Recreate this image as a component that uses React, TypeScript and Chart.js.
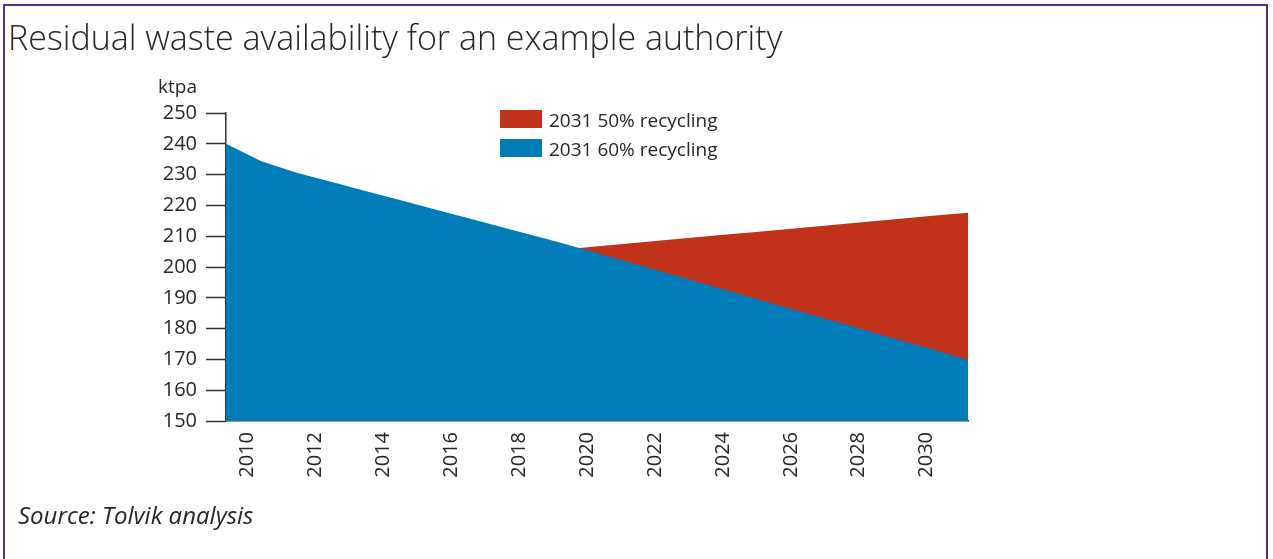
import React, { useEffect, useRef } from 'react';
import { Chart, registerables } from 'chart.js';

Chart.register(...registerables);

// ---- Data ----
const years = [2010, 2011, 2012, 2013, 2014, 2015, 2016, 2017, 2018, 2019, 2020, 2021, 2022, 2023, 2024, 2025, 2026, 2027, 2028, 2029, 2030, 2031];
const recycling60 = [240.0, 234.3, 230.6, 227.6, 224.5, 221.5, 218.4, 215.4, 212.3, 209.3, 206.2, 202.9, 199.6, 196.3, 193.0, 189.7, 186.4, 183.1, 179.8, 176.5, 173.2, 169.8];
const recycling50 = [null, null, null, null, null, null, null, null, null, null, 206.2, 207.2, 208.3, 209.3, 210.4, 211.4, 212.4, 213.5, 214.5, 215.6, 216.6, 217.6];
const tickYears = [2010, 2012, 2014, 2016, 2018, 2020, 2022, 2024, 2026, 2028, 2030];
const seriesNames = ['2031 50% recycling', '2031 60% recycling'];
const titleText = 'Residual waste availability for an example authority';
const unitText = 'ktpa';
const sourceText = 'Source: Tolvik analysis';

const RED = '#c1321a';
const BLUE = '#007db8';
const INK = '#262626';
const AXIS = '#333333';
const FONT = "'Open Sans', 'DejaVu Sans', sans-serif";

export default function App() {
  const canvasRef = useRef<HTMLCanvasElement | null>(null);

  useEffect(() => {
    const canvas = canvasRef.current;
    if (!canvas) return;
    const toPoints = (vals: (number | null)[]) => years.map((yr, i) => ({ x: yr, y: vals[i] }));
    const chart = new Chart(canvas, {
      type: 'line',
      data: {
        datasets: [
          {
            label: seriesNames[0],
            data: toPoints(recycling50) as any,
            xAxisID: 'x',
            yAxisID: 'y',
            backgroundColor: RED,
            borderColor: RED,
            borderWidth: 0,
            pointRadius: 0,
            fill: 'start',
            tension: 0,
            order: 1,
          },
          {
            label: seriesNames[1],
            data: toPoints(recycling60) as any,
            xAxisID: 'x',
            yAxisID: 'y',
            backgroundColor: BLUE,
            borderColor: BLUE,
            borderWidth: 0,
            pointRadius: 0,
            fill: 'start',
            tension: 0,
            order: 0,
          },
        ],
      },
      options: {
        responsive: false,
        animation: false,
        devicePixelRatio: 1,
        layout: { padding: { left: 150, top: 113, right: 305, bottom: 0 } },
        plugins: {
          legend: { display: false },
          tooltip: { enabled: false },
          title: { display: false },
        },
        scales: {
          x: {
            type: 'linear',
            min: years[0],
            max: years[years.length - 1],
            display: false,
          },
          x2: {
            type: 'linear',
            position: 'bottom',
            min: 2009.361,
            max: 2031.217,
            afterBuildTicks: (s: any) => {
              s.ticks = tickYears.map((v) => ({ value: v }));
            },
            afterFit: (s: any) => {
              s.height = 138;
            },
            grid: { display: false, drawTicks: false },
            border: { display: true, color: AXIS, width: 1.5 },
            ticks: {
              autoSkip: false,
              minRotation: 90,
              maxRotation: 90,
              padding: 11,
              color: INK,
              font: { family: FONT, size: 20 },
              callback: (v: any) => String(v),
            },
          },
          y: {
            min: 150,
            max: 250,
            afterFit: (s: any) => {
              s.width = 76;
            },
            grid: { drawOnChartArea: false, tickLength: 20, tickColor: AXIS, tickWidth: 1.5 },
            border: { display: true, color: AXIS, width: 1.5 },
            ticks: {
              stepSize: 10,
              padding: 9,
              color: INK,
              font: { family: FONT, size: 20 },
            },
          },
        },
      },
    });
    return () => chart.destroy();
  }, []);

  const text = (extra: React.CSSProperties): React.CSSProperties => ({
    position: 'absolute',
    fontFamily: FONT,
    color: INK,
    whiteSpace: 'nowrap',
    lineHeight: 1,
    margin: 0,
    ...extra,
  });

  return (
    <div style={{ position: 'fixed', left: 0, top: 0, width: 1273, height: 559, overflow: 'hidden', background: '#fff' }}>
      <div
        style={{
          position: 'absolute',
          left: 3,
          top: 4,
          width: 1265,
          height: 700,
          boxSizing: 'border-box',
          border: '2px solid #51318a',
        }}
      />
      <canvas ref={canvasRef} width={1273} height={559} style={{ position: 'absolute', left: 0, top: 0, width: 1273, height: 559 }} />
      <div style={text({ left: 8, top: 20, fontSize: 34, fontWeight: 300 })}>{titleText}</div>
      <div style={text({ left: 158, top: 77, fontSize: 19 })}>{unitText}</div>
      {seriesNames.map((name, i) => (
        <React.Fragment key={name}>
          <div style={{ position: 'absolute', left: 500, top: 110 + i * 29, width: 42, height: 18, background: i === 0 ? RED : BLUE }} />
          <div style={text({ left: 549, top: 111 + i * 29, fontSize: 19 })}>{name}</div>
        </React.Fragment>
      ))}
      <div style={text({ left: 18, top: 503, fontSize: 24, fontStyle: 'italic' })}>{sourceText}</div>
    </div>
  );
}
